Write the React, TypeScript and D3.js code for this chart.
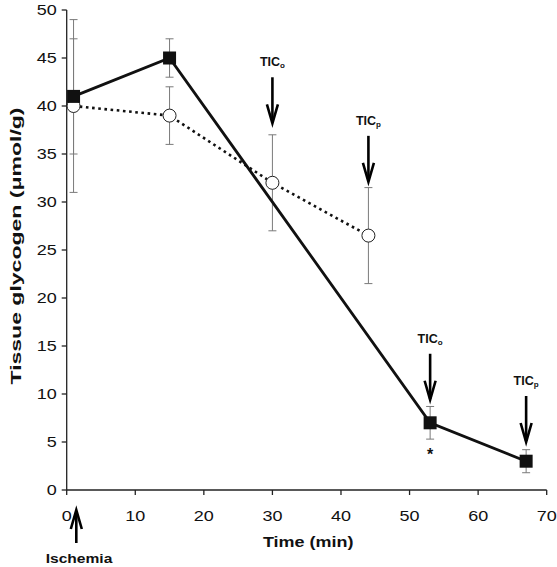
import React from "react";
import * as d3 from "d3";

const squareTimes = [1, 15, 53, 67];
const squareValues = [41, 45, 7, 3];
const squareErrors = [6, 2, 1.7, 1.2];

const circleTimes = [1, 15, 30, 44];
const circleValues = [40, 39, 32, 26.5];
const circleErrors = [9, 3, 5, 5];

const xTicks = [0, 10, 20, 30, 40, 50, 60, 70];
const yTicks = [0, 5, 10, 15, 20, 25, 30, 35, 40, 45, 50];

const ticArrows = [
  { t: 30, sub: "o", tipValue: 38.2 },
  { t: 44, sub: "p", tipValue: 32.1 },
  { t: 53, sub: "o", tipValue: 9.4 },
  { t: 67, sub: "p", tipValue: 5.0 },
];

const W = 557;
const H = 567;
const SX = 1.2;

export default function App() {
  const x = d3.scaleLinear().domain([0, 70]).range([66.7, 546.7]);
  const y = d3.scaleLinear().domain([0, 50]).range([490, 10]);
  const font = "'Liberation Sans', Arial, Helvetica, sans-serif";

  const sq = squareTimes.map((t, i) => ({ t, v: squareValues[i], e: squareErrors[i] }));
  const ci = circleTimes.map((t, i) => ({ t, v: circleValues[i], e: circleErrors[i] }));
  const line = d3
    .line<{ t: number; v: number }>()
    .x((d) => x(d.t))
    .y((d) => y(d.v));

  const errBar = (d: { t: number; v: number; e: number }, k: string) => {
    const cx = x(d.t);
    const y1 = y(d.v + d.e);
    const y2 = y(d.v - d.e);
    return (
      <g key={k} stroke="#7a7a7a" strokeWidth={1}>
        <line x1={cx} x2={cx} y1={y1} y2={y2} />
        <line x1={cx - 4} x2={cx + 4} y1={y1} y2={y1} />
        <line x1={cx - 4} x2={cx + 4} y1={y2} y2={y2} />
      </g>
    );
  };

  const downArrow = (cx: number, yTop: number, yTip: number, k: string) => (
    <g key={k} stroke="#000" strokeWidth={2.6} fill="none" strokeLinejoin="miter">
      <line x1={cx} x2={cx} y1={yTop} y2={yTip - 1} />
      <path d={`M${cx - 5.5},${yTip - 19} L${cx},${yTip} L${cx + 5.5},${yTip - 19}`} />
    </g>
  );

  const sText = (
    tx: number,
    ty: number,
    content: React.ReactNode,
    anchor: string,
    size: number,
    bold: boolean,
    k?: string
  ) => (
    <text
      key={k}
      transform={`translate(${tx},${ty}) scale(${SX},1)`}
      textAnchor={anchor}
      fontSize={size}
      fontWeight={bold ? "bold" : "normal"}
      fill="#111"
    >
      {content}
    </text>
  );

  return (
    <svg
      width={W}
      height={H}
      style={{ position: "absolute", left: 0, top: 0, background: "#fff" }}
      fontFamily={font}
    >
      <rect x={0} y={0} width={W} height={H} fill="#fff" />
      {/* axes */}
      <g stroke="#222" strokeWidth={1.3}>
        <line x1={x(0)} x2={x(0)} y1={y(50)} y2={y(0)} />
        <line x1={x(0)} x2={x(70)} y1={y(0)} y2={y(0)} />
        {yTicks.map((v) => (
          <line key={"yt" + v} x1={x(0) - 5} x2={x(0)} y1={y(v)} y2={y(v)} />
        ))}
        {xTicks.map((v) => (
          <line key={"xt" + v} x1={x(v)} x2={x(v)} y1={y(0)} y2={y(0) + 5} />
        ))}
      </g>
      {yTicks.map((v) => sText(56.7, y(v) + 5.4, String(v), "end", 15, false, "yl" + v))}
      {xTicks.map((v) => sText(x(v), 520.7, String(v), "middle", 15, false, "xl" + v))}
      {sText(x(35) + 1.5, 547, "Time (min)", "middle", 15, true)}
      <text
        transform={`translate(21,${246}) rotate(-90)`}
        textAnchor="middle"
        fontSize={15}
        fontWeight="bold"
        fill="#111"
        textLength={277}
        lengthAdjust="spacingAndGlyphs"
      >
        Tissue glycogen (μmol/g)
      </text>

      {/* error bars */}
      {ci.map((d, i) => errBar(d, "ce" + i))}
      {sq.map((d, i) => errBar(d, "se" + i))}

      {/* lines */}
      <path
        d={line(ci) || ""}
        fill="none"
        stroke="#111"
        strokeWidth={2.6}
        strokeDasharray="2.6,3.6"
      />
      <path d={line(sq) || ""} fill="none" stroke="#111" strokeWidth={2.8} />

      {/* markers */}
      {ci.map((d, i) => (
        <circle
          key={"cm" + i}
          cx={x(d.t)}
          cy={y(d.v)}
          r={6.5}
          fill="#fff"
          stroke="#222"
          strokeWidth={1}
        />
      ))}
      {sq.map((d, i) => (
        <rect
          key={"sm" + i}
          x={x(d.t) - 6.5}
          y={y(d.v) - 6.5}
          width={13}
          height={13}
          fill="#111"
        />
      ))}

      {/* TIC annotations */}
      {ticArrows.map((a, i) => {
        const cx = x(a.t);
        const tip = y(a.tipValue);
        const topY = tip - 46;
        return (
          <g key={"tic" + i}>
            {downArrow(cx, topY, tip, "ar" + i)}
            <text
              x={cx}
              y={topY - 11}
              textAnchor="middle"
              fontSize={12.5}
              fontWeight="bold"
              fill="#111"
            >
              TIC
              <tspan fontSize={8} dy={2}>
                {a.sub}
              </tspan>
            </text>
          </g>
        );
      })}

      {/* asterisk */}
      <text x={x(53)} y={460} textAnchor="middle" fontSize={16} fontWeight="bold" fill="#111">
        *
      </text>

      {/* Ischemia arrow */}
      <g stroke="#000" strokeWidth={2.6} fill="none">
        <line x1={x(1.4)} x2={x(1.4)} y1={543} y2={511} />
        <path d={`M${x(1.4) - 5.5},${529} L${x(1.4)},${510} L${x(1.4) + 5.5},${529}`} />
      </g>
      {sText(79, 562.7, "Ischemia", "middle", 13, true)}
    </svg>
  );
}
